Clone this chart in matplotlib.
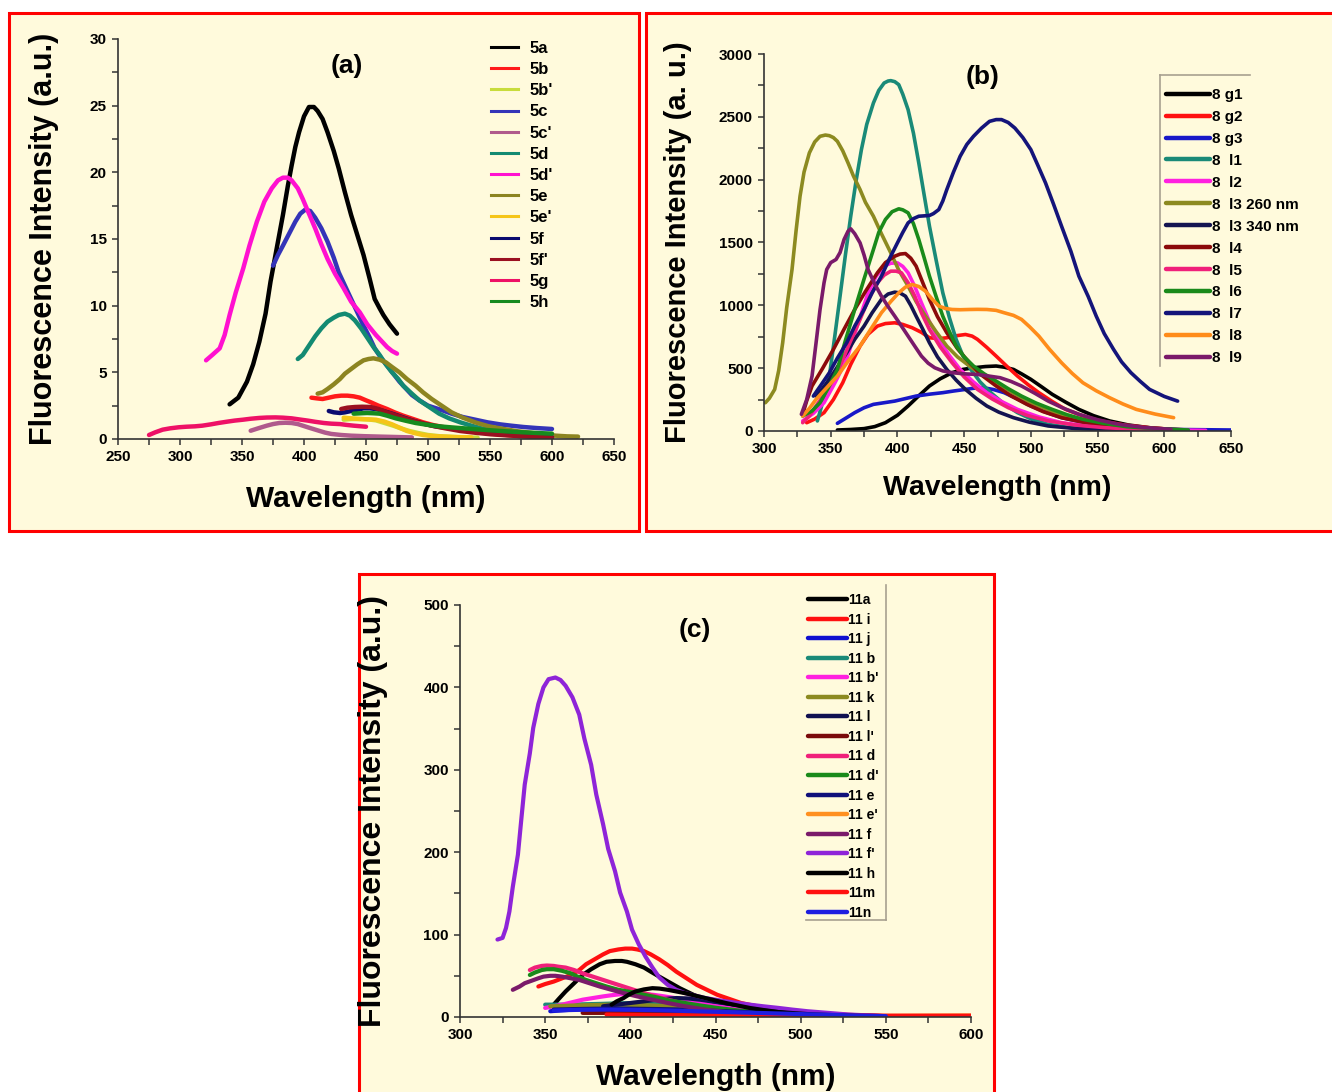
import matplotlib
matplotlib.use("Agg")
import matplotlib.pyplot as plt
from matplotlib.patches import Rectangle
from matplotlib.lines import Line2D
from matplotlib.ticker import MultipleLocator

# ---------------- panel (a) data ----------------
a5a_x = [340, 347, 354, 359, 364, 369, 373, 378, 383, 387, 390, 393, 396, 400, 404, 408, 411, 415, 419, 424, 428, 433, 438, 443, 448, 453, 457, 461, 464, 469, 475]
a5a_y = [2.6, 3.1, 4.3, 5.6, 7.3, 9.4, 11.8, 14.3, 16.8, 19.0, 20.5, 21.9, 23.0, 24.2, 24.9, 24.9, 24.6, 24.0, 23.0, 21.6, 20.3, 18.5, 16.8, 15.3, 13.8, 12.0, 10.5, 9.8, 9.3, 8.6, 7.9]
a5b_x = [406, 410, 415, 420, 425, 430, 435, 440, 445, 450, 454, 460, 467, 473, 480, 488, 496, 504, 512, 522, 532, 541, 551, 564, 577, 588, 600]
a5b_y = [3.1, 3.05, 3.0, 3.1, 3.2, 3.25, 3.25, 3.2, 3.1, 2.9, 2.75, 2.5, 2.25, 2.0, 1.75, 1.5, 1.25, 1.05, 0.9, 0.75, 0.6, 0.5, 0.4, 0.3, 0.2, 0.15, 0.1]
a5b2_x = [432, 438, 445, 452, 458, 465, 472, 478, 485, 492, 500, 510, 520, 530, 540]
a5b2_y = [1.45, 1.5, 1.5, 1.47, 1.4, 1.2, 1.0, 0.8, 0.6, 0.45, 0.3, 0.2, 0.15, 0.12, 0.1]
a5c_x = [375, 379, 383, 388, 393, 397, 401, 405, 409, 414, 419, 424, 428, 433, 438, 443, 448, 453, 457, 462, 467, 472, 477, 482, 487, 493, 500, 510, 519, 528, 538, 548, 558, 567, 577, 588, 600]
a5c_y = [13.0, 13.8, 14.5, 15.4, 16.3, 16.9, 17.2, 17.1, 16.6, 15.8, 14.8, 13.6, 12.5, 11.5, 10.5, 9.5, 8.5, 7.6, 6.8, 6.1, 5.5, 4.9, 4.3, 3.8, 3.3, 2.9, 2.5, 2.2, 1.9, 1.65, 1.45, 1.25, 1.1, 1.0, 0.9, 0.82, 0.75]
a5c2_x = [357, 363, 370, 375, 380, 385, 390, 395, 399, 405, 412, 417, 422, 430, 438, 449, 461, 474, 487]
a5c2_y = [0.62, 0.8, 1.0, 1.12, 1.2, 1.22, 1.2, 1.12, 1.0, 0.82, 0.62, 0.48, 0.38, 0.3, 0.25, 0.21, 0.18, 0.15, 0.12]
a5d_x = [395, 399, 404, 409, 414, 419, 424, 428, 433, 437, 441, 446, 451, 456, 461, 466, 471, 476, 480, 487, 493, 501, 509, 517, 526, 535, 545, 556, 568, 584, 600]
a5d_y = [6.0, 6.3, 7.0, 7.7, 8.3, 8.8, 9.1, 9.3, 9.4, 9.25, 8.9, 8.3, 7.6, 6.9, 6.3, 5.6, 5.0, 4.5, 4.0, 3.4, 2.9, 2.4, 1.9, 1.55, 1.25, 1.0, 0.75, 0.6, 0.45, 0.35, 0.25]
a5d2_x = [321, 326, 332, 336, 340, 345, 351, 356, 362, 368, 374, 379, 383, 387, 390, 395, 399, 404, 409, 414, 419, 425, 432, 438, 445, 451, 458, 463, 467, 471, 475]
a5d2_y = [5.9, 6.3, 6.8, 7.8, 9.3, 11.0, 12.8, 14.5, 16.3, 17.8, 18.8, 19.4, 19.6, 19.6, 19.4, 18.8, 18.0, 16.9, 15.8, 14.6, 13.5, 12.4, 11.3, 10.3, 9.5, 8.6, 7.8, 7.3, 6.9, 6.6, 6.4]
a5e_x = [411, 415, 419, 424, 429, 433, 438, 443, 448, 452, 456, 461, 466, 471, 477, 483, 490, 496, 503, 511, 519, 528, 538, 549, 561, 572, 584, 593, 603, 612, 621]
a5e_y = [3.4, 3.5, 3.75, 4.1, 4.5, 4.9, 5.25, 5.6, 5.9, 6.0, 6.05, 5.95, 5.75, 5.4, 5.0, 4.5, 4.0, 3.5, 3.0, 2.5, 2.0, 1.6, 1.25, 0.95, 0.75, 0.58, 0.45, 0.35, 0.25, 0.2, 0.18]
a5e2_x = [432, 438, 445, 452, 458, 465, 471, 477, 483, 490, 496, 504, 513, 524, 535]
a5e2_y = [1.6, 1.55, 1.5, 1.47, 1.45, 1.3, 1.1, 0.85, 0.6, 0.42, 0.3, 0.22, 0.18, 0.14, 0.12]
a5f_x = [420, 424, 429, 433, 438, 443, 448, 453, 458, 464, 471, 479, 487, 496, 506, 516, 526, 538, 551, 564, 577, 588, 600]
a5f_y = [2.1, 2.0, 1.95, 2.0, 2.1, 2.2, 2.3, 2.3, 2.25, 2.1, 1.9, 1.65, 1.4, 1.15, 0.95, 0.82, 0.7, 0.57, 0.45, 0.35, 0.25, 0.18, 0.12]
a5f2_x = [430, 435, 441, 447, 454, 460, 467, 475, 483, 493, 503, 514, 526, 538, 551, 564, 577, 588, 600]
a5f2_y = [2.25, 2.35, 2.4, 2.42, 2.4, 2.25, 2.0, 1.75, 1.5, 1.25, 1.0, 0.8, 0.6, 0.47, 0.35, 0.27, 0.2, 0.15, 0.1]
a5g_x = [275, 280, 286, 292, 299, 305, 312, 318, 325, 331, 338, 344, 351, 357, 364, 370, 377, 383, 390, 396, 403, 409, 416, 422, 429, 434, 440, 445, 450]
a5g_y = [0.3, 0.5, 0.7, 0.8, 0.88, 0.92, 0.95, 1.0, 1.1, 1.2, 1.3, 1.38, 1.45, 1.52, 1.58, 1.61, 1.62, 1.6, 1.55, 1.47, 1.38, 1.29, 1.2, 1.15, 1.12, 1.06, 1.0, 0.96, 0.92]
a5h_x = [440, 446, 451, 456, 461, 467, 474, 482, 490, 499, 509, 519, 529, 540, 551, 564, 577, 588, 600]
a5h_y = [1.9, 1.93, 1.95, 1.93, 1.9, 1.75, 1.55, 1.37, 1.2, 1.07, 0.95, 0.87, 0.8, 0.72, 0.65, 0.57, 0.5, 0.45, 0.4]

a_labels = ["5a", "5b", "5b'", "5c", "5c'", "5d", "5d'", "5e", "5e'", "5f", "5f'", "5g", "5h"]
a_x = [a5a_x, a5b_x, a5b2_x, a5c_x, a5c2_x, a5d_x, a5d2_x, a5e_x, a5e2_x, a5f_x, a5f2_x, a5g_x, a5h_x]
a_y = [a5a_y, a5b_y, a5b2_y, a5c_y, a5c2_y, a5d_y, a5d2_y, a5e_y, a5e2_y, a5f_y, a5f2_y, a5g_y, a5h_y]
a_colors = ["#000000", "#ff1a1a", "#c8dc3c", "#3434b8", "#b05a8c", "#138a72", "#ff10d0",
            "#8c8420", "#f5c518", "#0a0a70", "#9a1020", "#ee1166", "#168a1e"]

# ---------------- panel (b) data ----------------
b_g1_x = [355, 365, 375, 383, 391, 400, 408, 416, 424, 432, 441, 449, 457, 466, 474, 480, 487, 493, 500, 508, 516, 526, 536, 547, 559, 573, 589, 605, 621]
b_g1_y = [8, 12, 19, 35, 66, 125, 199, 280, 358, 415, 464, 490, 503, 513, 517, 508, 490, 455, 411, 352, 292, 230, 172, 122, 80, 48, 26, 13, 5]
b_g2_x = [332, 338, 345, 352, 359, 365, 372, 378, 385, 391, 398, 404, 411, 418, 424, 431, 437, 444, 451, 456, 460, 467, 474, 482, 490, 498, 506, 516, 526, 539, 552, 570, 589, 603, 618]
b_g2_y = [66, 95, 146, 250, 384, 530, 676, 770, 835, 855, 861, 848, 822, 785, 742, 735, 742, 758, 768, 755, 729, 665, 596, 515, 437, 368, 305, 235, 172, 120, 80, 48, 26, 15, 8]
b_g3_x = [355, 361, 368, 375, 382, 390, 398, 406, 414, 424, 434, 442, 451, 457, 464, 472, 480, 490, 500, 511, 523, 539, 556, 580, 610, 650]
b_g3_y = [61, 100, 146, 185, 212, 225, 238, 258, 278, 293, 305, 318, 331, 340, 345, 330, 305, 255, 199, 150, 106, 70, 40, 22, 12, 8]
b_l1_x = [340, 344, 349, 353, 357, 361, 365, 369, 373, 377, 382, 386, 390, 393, 395, 398, 401, 404, 408, 412, 416, 420, 424, 429, 434, 439, 444, 449, 455, 462, 470, 480, 490, 501, 513, 526, 539, 555, 572, 595, 618]
b_l1_y = [80, 230, 437, 750, 1073, 1400, 1709, 1990, 2239, 2440, 2610, 2710, 2769, 2785, 2788, 2780, 2756, 2680, 2557, 2370, 2133, 1880, 1630, 1360, 1100, 900, 729, 600, 490, 390, 305, 215, 146, 92, 53, 32, 19, 10, 5, 2, 0]
b_l2_x = [329, 337, 345, 353, 362, 370, 378, 384, 390, 395, 400, 404, 408, 413, 418, 424, 431, 439, 447, 457, 467, 478, 490, 506, 523, 544, 566, 598, 631]
b_l2_y = [80, 140, 225, 380, 570, 840, 1100, 1230, 1312, 1335, 1338, 1310, 1259, 1150, 1020, 870, 729, 600, 490, 390, 305, 235, 172, 112, 66, 38, 19, 10, 5]
b_l3a_x = [301, 304, 308, 311, 314, 317, 321, 324, 327, 330, 334, 338, 342, 346, 349, 352, 355, 359, 363, 367, 372, 376, 382, 388, 395, 401, 408, 414, 421, 429, 437, 445, 454, 463, 474, 487, 500, 516, 533, 552, 572, 588, 605]
b_l3a_y = [225, 260, 331, 480, 702, 980, 1285, 1590, 1868, 2060, 2213, 2300, 2345, 2355, 2350, 2335, 2305, 2230, 2133, 2030, 1921, 1820, 1709, 1570, 1418, 1280, 1153, 1030, 914, 790, 676, 590, 517, 450, 384, 300, 225, 155, 93, 55, 26, 15, 8]
b_l3b_x = [339, 344, 349, 355, 362, 368, 375, 381, 388, 393, 398, 402, 406, 410, 414, 419, 424, 430, 437, 444, 451, 459, 467, 476, 487, 499, 513, 533, 556, 580, 605]
b_l3b_y = [278, 340, 411, 510, 623, 730, 835, 940, 1047, 1090, 1105, 1098, 1073, 1000, 914, 810, 702, 590, 490, 405, 331, 260, 199, 150, 106, 70, 40, 20, 8, 3, 0]
b_l4_x = [329, 332, 336, 344, 352, 360, 368, 376, 385, 391, 398, 402, 406, 410, 414, 419, 424, 430, 437, 445, 454, 463, 474, 485, 497, 509, 523, 539, 556, 576, 598]
b_l4_y = [133, 240, 358, 500, 649, 810, 967, 1110, 1259, 1340, 1391, 1408, 1412, 1375, 1312, 1180, 1047, 910, 782, 655, 543, 445, 358, 280, 212, 155, 106, 70, 40, 20, 8]
b_l5_x = [329, 334, 339, 347, 355, 363, 372, 378, 385, 390, 395, 399, 403, 408, 413, 418, 424, 432, 441, 450, 460, 471, 483, 497, 513, 533, 556, 585, 615]
b_l5_y = [66, 120, 199, 320, 464, 670, 888, 1040, 1179, 1240, 1272, 1272, 1259, 1180, 1073, 940, 808, 670, 543, 430, 331, 255, 186, 125, 80, 48, 26, 12, 5]
b_l6_x = [329, 336, 342, 348, 355, 361, 368, 375, 382, 386, 391, 396, 401, 404, 408, 412, 416, 420, 424, 429, 434, 439, 444, 450, 457, 465, 474, 483, 493, 504, 516, 527, 539, 555, 572, 595, 618]
b_l6_y = [119, 160, 225, 340, 490, 720, 967, 1210, 1444, 1580, 1683, 1745, 1768, 1760, 1736, 1650, 1524, 1380, 1232, 1070, 914, 790, 676, 590, 517, 455, 397, 337, 278, 222, 172, 130, 93, 60, 34, 18, 8]
b_l7_x = [337, 343, 349, 355, 362, 368, 375, 381, 388, 394, 400, 404, 408, 412, 416, 420, 424, 427, 431, 434, 437, 442, 447, 452, 457, 463, 469, 474, 478, 483, 488, 494, 500, 505, 511, 517, 523, 530, 536, 543, 549, 555, 562, 568, 575, 582, 589, 600, 610]
b_l7_y = [278, 370, 464, 580, 702, 835, 967, 1100, 1232, 1370, 1497, 1580, 1656, 1690, 1709, 1712, 1715, 1730, 1762, 1830, 1921, 2060, 2186, 2280, 2345, 2410, 2464, 2478, 2478, 2455, 2411, 2335, 2239, 2120, 1974, 1805, 1630, 1430, 1232, 1070, 914, 775, 649, 550, 464, 395, 331, 275, 238]
b_l8_x = [329, 334, 339, 347, 355, 363, 372, 380, 388, 395, 401, 406, 411, 416, 421, 426, 431, 436, 441, 447, 454, 460, 467, 474, 480, 487, 493, 499, 506, 514, 523, 531, 539, 549, 559, 569, 579, 593, 607]
b_l8_y = [119, 180, 252, 345, 437, 555, 676, 810, 941, 1030, 1100, 1145, 1166, 1150, 1113, 1050, 994, 975, 967, 965, 967, 968, 967, 960, 941, 920, 888, 830, 755, 650, 543, 458, 384, 320, 265, 215, 172, 135, 106]
b_l9_x = [328, 332, 336, 339, 342, 345, 347, 350, 354, 357, 360, 363, 365, 368, 372, 375, 378, 383, 388, 393, 398, 403, 408, 413, 418, 423, 428, 434, 441, 450, 460, 468, 477, 485, 493, 503, 513, 524, 536, 550, 566, 585, 605]
b_l9_y = [133, 250, 437, 700, 967, 1180, 1285, 1340, 1365, 1420, 1524, 1590, 1609, 1570, 1497, 1400, 1285, 1170, 1073, 990, 914, 835, 755, 675, 596, 540, 503, 478, 464, 455, 450, 438, 424, 395, 358, 300, 238, 183, 133, 90, 53, 28, 13]

b_labels = ["8 g1", "8 g2", "8 g3", "8  l1", "8  l2", "8  l3 260 nm", "8  l3 340 nm",
            "8  l4", "8  l5", "8  l6", "8  l7", "8  l8", "8  l9"]
b_x = [b_g1_x, b_g2_x, b_g3_x, b_l1_x, b_l2_x, b_l3a_x, b_l3b_x, b_l4_x, b_l5_x, b_l6_x, b_l7_x, b_l8_x, b_l9_x]
b_y = [b_g1_y, b_g2_y, b_g3_y, b_l1_y, b_l2_y, b_l3a_y, b_l3b_y, b_l4_y, b_l5_y, b_l6_y, b_l7_y, b_l8_y, b_l9_y]
b_colors = ["#000000", "#ff1010", "#1818c8", "#1a8a78", "#ff20e0", "#8c8a20", "#141450",
            "#8b0a0a", "#f0207a", "#1a8a1a", "#14147a", "#ff8c1a", "#7a1a6a"]

# ---------------- panel (c) data ----------------
c_a_x = [355, 358, 362, 367, 372, 377, 382, 386, 391, 395, 398, 403, 408, 412, 417, 423, 429, 435, 441, 448, 456, 464, 473, 483, 494, 508, 523]
c_a_y = [15, 22, 31, 41, 51, 58, 64, 67, 68, 68, 67, 64, 60, 55, 49, 42, 35, 29, 23, 18, 13, 10, 7, 5, 3, 2, 1]
c_i_x = [346, 350, 355, 360, 365, 370, 374, 379, 384, 388, 393, 397, 401, 404, 408, 412, 417, 422, 427, 433, 439, 445, 451, 458, 465, 472, 480, 489, 499, 510, 523, 536, 550]
c_i_y = [37, 40, 43, 47, 51, 57, 64, 70, 76, 80, 82, 83, 83, 82, 80, 76, 70, 63, 55, 47, 39, 33, 27, 22, 17, 14, 11, 8, 6, 4, 3, 2, 1]
c_j_x = [353, 363, 374, 386, 398, 410, 422, 436, 451, 465, 480, 498, 516, 533, 550]
c_j_y = [7, 8.5, 10, 10.7, 11, 10.7, 10, 9, 8, 6.5, 5, 3.5, 2, 1.5, 1]
c_b_x = [350, 357, 365, 374, 384, 393, 403, 412, 422, 433, 444, 456, 468, 481, 494, 510, 528]
c_b_y = [15, 15, 15, 15.5, 16, 16.5, 17, 16.3, 15, 13, 11, 8.5, 6, 4.5, 3, 2, 1]
c_b2_x = [350, 355, 360, 366, 372, 378, 384, 390, 396, 402, 408, 414, 420, 426, 432, 439, 446, 455, 465, 477, 489, 502, 516]
c_b2_y = [11, 13, 15, 18, 21, 23, 25, 26.7, 28, 28.3, 28, 26.8, 25, 23, 21, 18, 15, 12, 9, 6.5, 4, 2.5, 1]
c_k_x = [353, 360, 367, 378, 389, 401, 413, 425, 437, 450, 463, 477, 492, 507, 523]
c_k_y = [13, 13.5, 14, 14.5, 15, 14.7, 14, 12.7, 11, 9, 7, 5, 3, 2, 1]
c_l_x = [384, 396, 408, 417, 427, 434, 441, 451, 461, 473, 485, 500, 516, 533, 550]
c_l_y = [13, 16, 19, 21.5, 23, 22.5, 21, 18, 15, 11.5, 8, 5, 3, 2, 1]
c_l2_x = [372, 384, 396, 414, 432, 456, 480, 504, 528]
c_l2_y = [5, 5, 5, 4.6, 4, 3, 2, 1.5, 1]
c_d_x = [341, 344, 348, 351, 355, 358, 362, 367, 372, 378, 384, 390, 396, 402, 408, 415, 422, 430, 439, 447, 456, 467, 480, 492, 504]
c_d_y = [57, 60, 62, 62.5, 62, 61, 60, 57, 53, 49, 45, 41, 37, 33, 29, 25, 21, 17, 13, 10, 7, 5, 3, 2, 1]
c_d2_x = [341, 344, 348, 351, 355, 360, 365, 369, 374, 380, 386, 393, 401, 408, 415, 423, 432, 441, 451, 463, 475, 490, 504]
c_d2_y = [51, 54, 57, 58, 58, 56, 53, 49, 45, 41, 37, 33, 30, 27, 24, 20, 17, 14, 11, 8, 6, 4, 2]
c_e_x = [355, 367, 379, 391, 403, 417, 432, 450, 468, 486, 504, 527, 550]
c_e_y = [9, 9.6, 10, 10.2, 10, 9.6, 9, 7.5, 6, 4.5, 3, 2, 1]
c_e2_x = [389, 410, 430, 455, 480, 505, 530, 553, 575, 588, 600]
c_e2_y = [1.5, 1.45, 1.4, 1.3, 1.2, 1.2, 1.2, 1.4, 1.6, 1.7, 1.8]
c_f_x = [331, 335, 338, 342, 346, 349, 353, 356, 360, 365, 370, 376, 382, 389, 396, 404, 413, 422, 432, 444, 456, 468, 480]
c_f_y = [33, 37, 41, 44, 47, 49, 50, 50, 49, 47, 45, 41, 37, 33, 29, 25, 21, 17, 13, 9, 6, 4, 2]
c_f2_x = [322, 325, 327, 329, 331, 334, 336, 338, 341, 343, 346, 349, 352, 356, 359, 362, 366, 370, 373, 377, 380, 384, 387, 391, 394, 398, 401, 405, 409, 413, 417, 422, 427, 432,
          438, 444, 450, 456, 463, 470, 478, 487, 495, 504, 516, 528, 539, 550]
c_f2_y = [94, 96, 108, 128, 158, 197, 240, 282, 320, 351, 380, 400, 410, 412, 409, 402, 388, 367, 338, 306, 270, 234, 204, 177, 151, 128, 106, 88, 73, 60, 48, 39, 33, 29,
          26, 23, 21, 19, 17, 15, 13, 11, 9, 7, 5, 3, 2, 1]
c_h_x = [389, 392, 396, 399, 403, 408, 413, 417, 422, 427, 432, 438, 444, 450, 456, 463, 470, 478, 487, 497, 508, 523, 540]
c_h_y = [15, 19, 23, 27, 31, 33.5, 35, 34.5, 33, 31, 29, 26, 23, 20, 17, 14, 11, 8.5, 6, 4.5, 3, 2, 1]
c_m_x = [386, 410, 432, 456, 480, 504, 528, 552, 576, 600]
c_m_y = [3, 2.5, 2, 1.8, 1.6, 1.6, 1.6, 1.6, 1.6, 1.6]
c_n_x = [355, 370, 384, 402, 420, 438, 456, 474, 492, 510, 528, 539, 550]
c_n_y = [8, 8.7, 9, 8.7, 8, 7, 6, 5, 4, 3, 2, 1.5, 1]

c_labels = ["11a", "11 i", "11 j", "11 b", "11 b'", "11 k", "11 l", "11 l'", "11 d", "11 d'",
            "11 e", "11 e'", "11 f", "11 f'", "11 h", "11m", "11n"]
c_x = [c_a_x, c_i_x, c_j_x, c_b_x, c_b2_x, c_k_x, c_l_x, c_l2_x, c_d_x, c_d2_x, c_e_x, c_e2_x,
       c_f_x, c_f2_x, c_h_x, c_m_x, c_n_x]
c_y = [c_a_y, c_i_y, c_j_y, c_b_y, c_b2_y, c_k_y, c_l_y, c_l2_y, c_d_y, c_d2_y, c_e_y, c_e2_y,
       c_f_y, c_f2_y, c_h_y, c_m_y, c_n_y]
c_colors = ["#000000", "#ff1010", "#1010d0", "#1a8a78", "#ff20e0", "#8c8a20", "#101050", "#7a0a0a",
            "#f0207a", "#1a8a1a", "#10107a", "#ff9020", "#7a1a6a", "#8e24d8", "#000000", "#ff1010", "#1e1ee0"]

plt.rcParams['font.family'] = ['Liberation Sans', 'DejaVu Sans']
plt.rcParams['font.weight'] = 'bold'

W, H = 1332, 1092
fig = plt.figure(figsize=(W / 100, H / 100), dpi=100)
fig.patch.set_facecolor('white')

cream = '#fffadc'


def px_rect(x0, y0, x1, y1):
    return Rectangle((x0 / W, 1 - y1 / H), (x1 - x0) / W, (y1 - y0) / H,
                     transform=fig.transFigure, facecolor=cream, edgecolor='#ff0000',
                     linewidth=2.2, zorder=-10)


for r in [px_rect(9, 13, 639, 531), px_rect(646, 13, 1340, 531), px_rect(359, 574, 994, 1100)]:
    fig.add_artist(r)


def px_axes(x0, y0, x1, y1):
    return fig.add_axes([x0 / W, 1 - y1 / H, (x1 - x0) / W, (y1 - y0) / H])


def style(ax, xlim, ylim, xmaj, ymaj, ylabel, ylab_x, ylab_fs, xlab_y, xlab_fs):
    ax.set_facecolor('none')
    ax.set_xlim(*xlim)
    ax.set_ylim(*ylim)
    for s in ['top', 'right']:
        ax.spines[s].set_visible(False)
    for s in ['left', 'bottom']:
        ax.spines[s].set_color('#333333')
        ax.spines[s].set_linewidth(1.2)
    ax.xaxis.set_major_locator(MultipleLocator(xmaj))
    ax.xaxis.set_minor_locator(MultipleLocator(xmaj / 2))
    ax.yaxis.set_major_locator(MultipleLocator(ymaj))
    ax.yaxis.set_minor_locator(MultipleLocator(ymaj / 2))
    ax.tick_params(which='both', direction='out', length=4, width=1.1, color='#333333')
    ax.tick_params(which='major', labelsize=11, pad=4)
    for lab in ax.get_xticklabels() + ax.get_yticklabels():
        lab.set_fontweight('bold')
    ax.set_xlabel('Wavelength (nm)', fontsize=xlab_fs, fontweight='bold')
    ax.xaxis.set_label_coords(0.5, xlab_y)
    ax.set_ylabel(ylabel, fontsize=ylab_fs, fontweight='bold')
    ax.yaxis.set_label_coords(ylab_x, 0.5)


# ---- (a)
ax_a = px_axes(118, 39, 614, 439)
for xs, ys, lab, col in zip(a_x, a_y, a_labels, a_colors):
    ax_a.plot(xs, ys, color=col, lw=3.2, label=lab, solid_capstyle='round')
style(ax_a, (250, 650), (0, 30), 50, 5, 'Fluorescence Intensity (a.u.)', -0.118, 22, -0.115, 21.5)
ax_a.text(250 + (347 - 118) * 50 / 62, 28.0, '(a)', fontsize=19, fontweight='bold', ha='center', va='center')
handles = [Line2D([], [], color=c, lw=2.2) for c in a_colors]
ax_a.legend(handles, a_labels, loc='upper left', bbox_to_anchor=(491 / W, 1 - 41 / H),
            bbox_transform=fig.transFigure, frameon=False, fontsize=12, handlelength=1.6,
            handletextpad=0.7, labelspacing=0.37, borderpad=0, borderaxespad=0)

# ---- (b)
ax_b = px_axes(764, 54, 1231, 431)
for xs, ys, lab, col in zip(b_x, b_y, b_labels, b_colors):
    ax_b.plot(xs, ys, color=col, lw=2.6, label=lab, solid_capstyle='round')
style(ax_b, (300, 650), (0, 3000), 50, 500, 'Fluorescence Intensity (a. u.)', -0.154, 21, -0.117, 20.5)
ax_b.text(300 + (983 - 764) * 50 / 66.7, 2817, '(b)', fontsize=19, fontweight='bold',
          ha='center', va='center')
handles = [Line2D([], [], color=c, lw=3.2, solid_capstyle='round') for c in b_colors]
ax_b.legend(handles, b_labels, loc='upper left', bbox_to_anchor=(1166 / W, 1 - 88 / H),
            bbox_transform=fig.transFigure, frameon=False, fontsize=11, handlelength=2.9,
            handletextpad=0.1, labelspacing=0.52, borderpad=0, borderaxespad=0)
fig.add_artist(Line2D([1160 / W, 1160 / W], [1 - 366 / H, 1 - 75 / H], transform=fig.transFigure,
                      color='#a8a090', lw=1.2))
fig.add_artist(Line2D([1160 / W, 1250 / W], [1 - 75 / H, 1 - 75 / H], transform=fig.transFigure,
                      color='#a8a090', lw=1.2))

# ---- (c)
ax_c = px_axes(460, 605, 971, 1017)
for xs, ys, lab, col in zip(c_x, c_y, c_labels, c_colors):
    ax_c.plot(xs, ys, color=col, lw=3.0, label=lab, solid_capstyle='round')
style(ax_c, (300, 600), (0, 500), 50, 100, 'Fluorescence Intensity (a.u.)', -0.141, 23, -0.112, 21.5)
ax_c.text(300 + (695 - 460) * 50 / 85.2, 470, '(c)', fontsize=19, fontweight='bold',
          ha='center', va='center')
handles = [Line2D([], [], color=c, lw=3.2, solid_capstyle='round') for c in c_colors]
ax_c.legend(handles, c_labels, loc='upper left', bbox_to_anchor=(808 / W, 1 - 593 / H),
            bbox_transform=fig.transFigure, frameon=False, fontsize=10, handlelength=2.8,
            handletextpad=0.1, labelspacing=0.4, borderpad=0, borderaxespad=0)
fig.add_artist(Line2D([886 / W, 886 / W], [1 - 920 / H, 1 - 585 / H], transform=fig.transFigure,
                      color='#a8a090', lw=1.2))
fig.add_artist(Line2D([806 / W, 886 / W], [1 - 920 / H, 1 - 920 / H], transform=fig.transFigure,
                      color='#a8a090', lw=1.2))

fig.savefig('out.png', dpi=100, facecolor='white')
